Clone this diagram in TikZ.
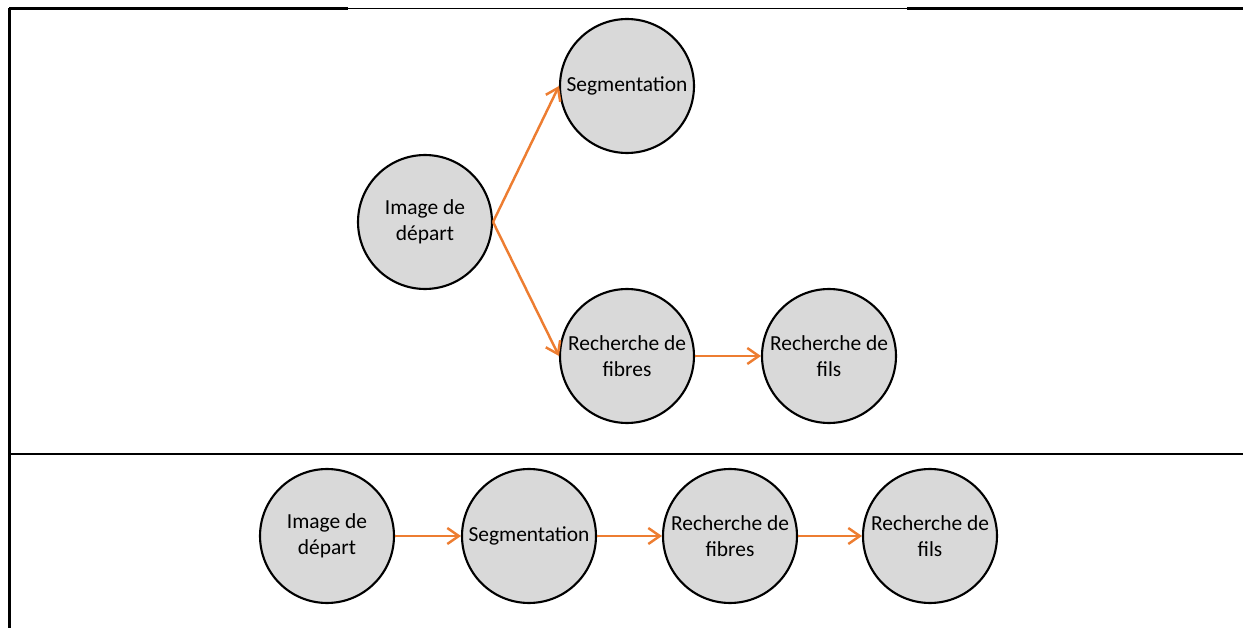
\documentclass[tikz,border=0pt]{standalone}
\usepackage{fontspec}
\setmainfont{Carlito}
\usetikzlibrary{arrows.meta}
\definecolor{orange}{RGB}{237,125,49}
\definecolor{grey}{RGB}{217,217,217}

\begin{document}
\begin{tikzpicture}[x=0.02cm,y=-0.02cm,
	etape/.style={circle,draw,line width=1.2pt,fill=grey,minimum size=2.68cm,inner sep=0pt,align=center,font=\fontsize{12.2}{14.8}\selectfont},
	fleche/.style={orange,line width=1.4pt,-{Straight Barb[length=2.3mm,width=3.2mm]}},
	epais/.style={line width=1.7pt},
	fin/.style={line width=0.6pt}]
	\useasboundingbox (0,0) rectangle (1245,628);
	\draw[epais] (9,8.5) -- (348,8.5);
	\draw[fin] (348,8.5) -- (907,8.5);
	\draw[epais] (907,8.5) -- (1243,8.5);
	\draw[epais] (9.3,7.7) -- (9.3,628);
	\draw[epais] (9,454) -- (248,454);
	\draw[fin] (248,454) -- (1005,454);
	\draw[epais] (1005,454) -- (1243,454);
	\node[etape] (dep) at (425,222) {Image de\\départ};
	\node[etape] (seg) at (627,86) {Segmentation};
	\node[etape] (fib) at (627,356) {Recherche de\\fibres};
	\node[etape] (fil) at (829,356) {Recherche de\\fils};
	\draw[fleche] (dep.east) -- (seg.west);
	\draw[fleche] (dep.east) -- (fib.west);
	\draw[fleche] (fib) -- (fil);
	\node[etape] (dep2) at (327,536) {Image de\\départ};
	\node[etape] (seg2) at (529,536) {Segmentation};
	\node[etape] (fib2) at (730,536) {Recherche de\\fibres};
	\node[etape] (fil2) at (930,536) {Recherche de\\fils};
	\draw[fleche] (dep2) -- (seg2);
	\draw[fleche] (seg2) -- (fib2);
	\draw[fleche] (fib2) -- (fil2);
\end{tikzpicture}
\end{document}
